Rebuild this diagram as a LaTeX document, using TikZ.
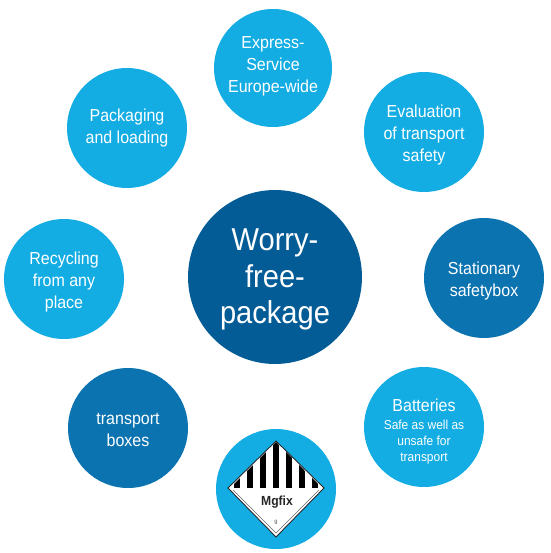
\documentclass[tikz,border=0pt]{standalone}
\usepackage{fontspec}
\setmainfont[FakeStretch=0.92]{Liberation Sans}
\definecolor{lightblue}{HTML}{13ACE3}
\definecolor{midblue}{HTML}{0B73B0}
\definecolor{darkblue}{HTML}{045C96}
\begin{document}
\begin{tikzpicture}[x=0.02cm, y=-0.02cm,
		bubble/.style={circle, minimum size=2.4cm, inner sep=0pt, text=white, align=center, font=\fontsize{9.9}{12.6}\selectfont},
		stripe/.style={fill=black, draw=none}]
			\useasboundingbox (0, 0) rectangle (550, 553);
			% Cerchi
			\node (center) at (275, 277) [bubble, fill=darkblue, minimum size=3.48cm, font=\fontsize{18}{21}\selectfont] {\rule{0pt}{15.2pt}Worry-\\free-\\package};
			\node (express) at (273, 68) [bubble, fill=lightblue, minimum size=2.36cm] {Express-\\Service\\Europe-wide\rule[-4.3pt]{0pt}{4.3pt}};
			\node (evaluation) at (424, 132) [bubble, fill=lightblue] {\rule{0pt}{10.5pt}Evaluation\\of transport\\safety};
			\node (stationary) at (484, 278) [bubble, fill=midblue] {\rule{0pt}{10.5pt}Stationary\\safetybox};
			\node (batteries) at (424, 427) [bubble, fill=lightblue, font=\fontsize{7.4}{9.2}\selectfont] {\rule{0pt}{12.5pt}{\fontsize{9.9}{11}\selectfont Batteries}\\[1pt]Safe as well as\\unsafe for\\transport};
			\node (symbol) at (276, 489) [bubble, fill=lightblue] {};
			\node (boxes) at (128, 428) [bubble, fill=midblue] {\rule{0pt}{8.8pt}transport\\boxes};
			\node (recycling) at (64, 279) [bubble, fill=lightblue] {\rule{0pt}{10.5pt}Recycling\\from any\\place};
			\node (packaging) at (127, 128) [bubble, fill=lightblue] {Packaging\\and loading};

			% Etichetta di pericolo
			\fill[white] (276, 441) -- (324, 488) -- (276, 537) -- (228, 488) -- cycle;
			\begin{scope}
				\clip (276, 442) -- (322, 488) -- (230, 488) -- cycle;
				\foreach \dx in {-39, -26, -13, 0, 13, 26, 39} {
					\fill[stripe] (276+\dx-2.8, 441) rectangle (276+\dx+2.8, 488);
				}
			\end{scope}
			\draw[black!85, line width=0.5pt] (276, 441) -- (324, 488) -- (276, 537) -- (228, 488) -- cycle;
			\draw[black!60, line width=0.3pt] (233, 490) -- (276, 533) -- (319, 490);
			\node (mark) at (277, 502) [inner sep=0pt, text=black!85, font=\fontsize{7.5}{8}\selectfont\bfseries] {Mgfix};
			\node (nine) at (276, 522) [inner sep=0pt, text=black!70, font=\fontsize{3.5}{4}\selectfont] {9};
		\end{tikzpicture}
\end{document}
